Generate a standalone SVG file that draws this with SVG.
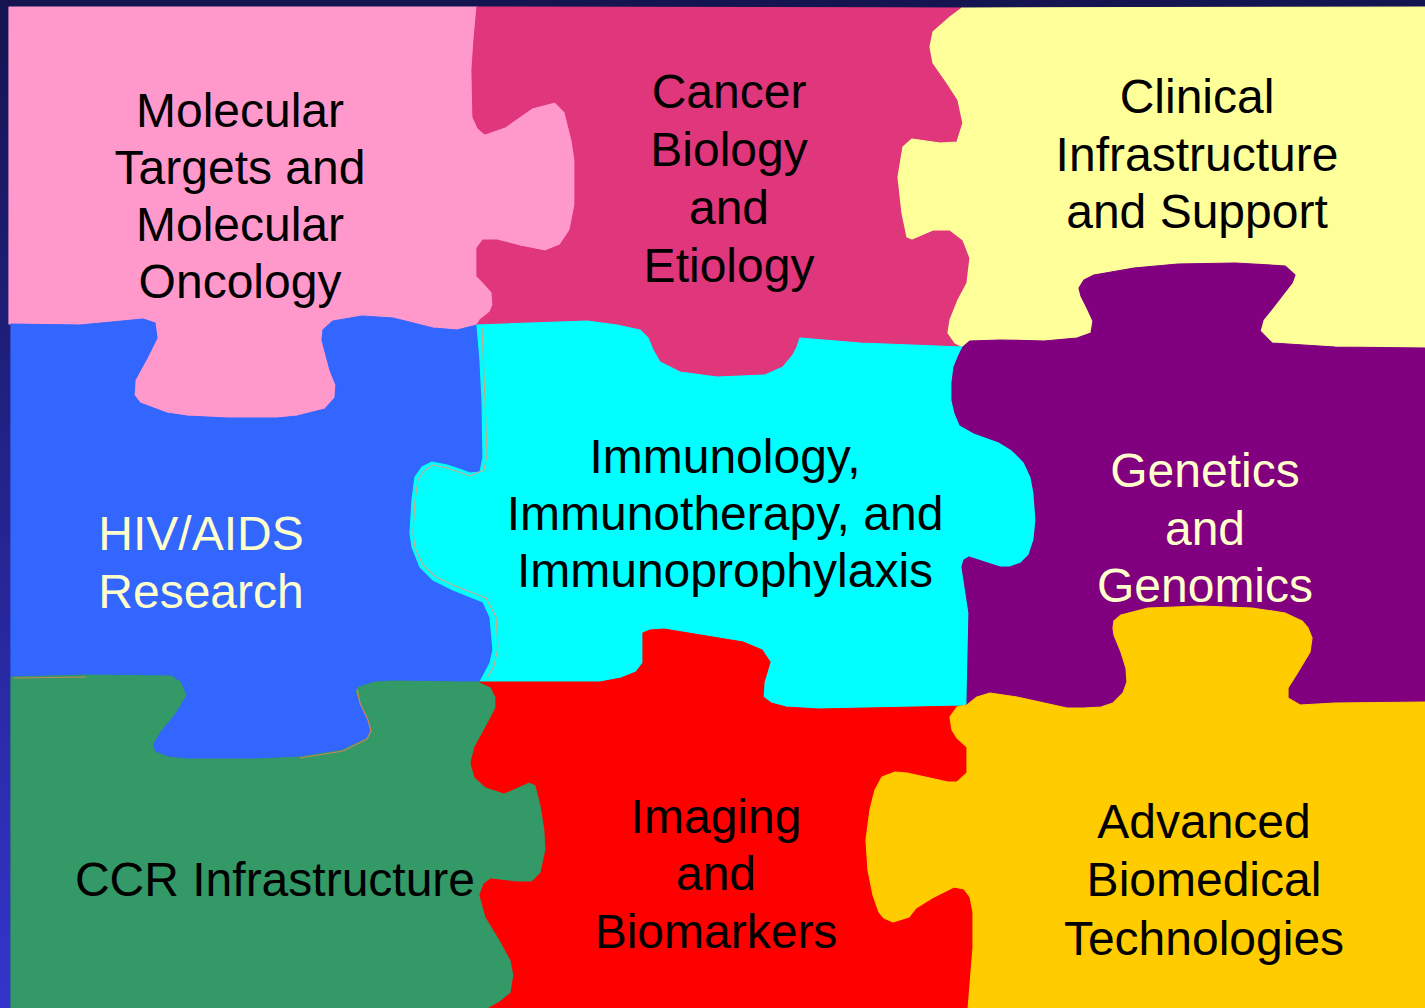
<svg xmlns="http://www.w3.org/2000/svg" width="1425" height="1008" viewBox="0 0 1425 1008">
<defs>
<linearGradient id="bg" x1="0" y1="0" x2="0" y2="1">
<stop offset="0" stop-color="#141450"/>
<stop offset="1" stop-color="#3434cc"/>
</linearGradient>
</defs>
<style>
.p{stroke-width:1.2;stroke-linejoin:round}
.t{font-family:"Liberation Sans",Arial,sans-serif;font-size:48px;text-anchor:middle;fill:#000}
.w{fill:#FFFFCC}
.seam{fill:none;stroke:#c8a88a;stroke-width:1.2;stroke-linejoin:round}
.seam2{fill:none;stroke:#c8865a;stroke-width:1.2;stroke-linejoin:round}
</style>
<rect x="0" y="0" width="1425" height="1008" fill="url(#bg)"/>

<g id="molecular-targets">
<path class="p" fill="#FF99CC" stroke="#FF99CC" d="M9,7 L477,7 474,40 472,70 473,117 478,128 485,134 505,127 532,108 555,102 565,112 572,140 575,160 575,205 570,230 560,245 545,251 520,246 497,240 483,240 477,248 477,276 483,282 492,292 493,305 490,312 480,320 477,325 457,330 433,328 393,318 362,316 333,321 323,330 322,340 330,370 336,385 335,398 325,409 297,416 277,418 227,418 187,416 167,413 140,403 134,395 135,380 147,358 157,338 155,323 143,319 80,325 9,324 Z"/>
<text class="t"><tspan x="240" y="127">Molecular</tspan><tspan x="240" y="184">Targets and</tspan><tspan x="240" y="241">Molecular</tspan><tspan x="240" y="298">Oncology</tspan></text>
</g>

<g id="cancer-biology">
<path class="p" fill="#E0367C" stroke="#E0367C" d="M477,7 L962,8 950,17 933,32 930,47 933,63 947,83 958,100 963,123 957,142 940,143 912,139 903,147 898,177 902,213 907,237 912,239 933,230 950,230 963,240 970,258 967,283 958,300 950,320 948,333 955,343 963,347 860,343 800,338 797,347 793,355 783,367 765,375 717,377 680,372 660,362 653,350 648,338 640,330 617,325 587,321 477,325 480,320 490,312 493,305 492,292 483,282 477,276 477,248 483,240 497,240 520,246 545,251 560,245 570,230 575,205 575,160 572,140 565,112 555,102 532,108 505,127 485,134 478,128 473,117 472,70 474,40 Z"/>
<text class="t"><tspan x="729" y="108">Cancer</tspan><tspan x="729" y="166">Biology</tspan><tspan x="729" y="224">and</tspan><tspan x="729" y="282">Etiology</tspan></text>
</g>

<g id="clinical-infrastructure">
<path class="p" fill="#FFFF99" stroke="#FFFF99" d="M962,8 L1426,7 1426,348 1335,347 1272,343 1260,331 1263,320 1275,305 1292,283 1295,275 1285,266 1235,263 1178,264 1134,268 1094,275 1084,280 1079,288 1081,296 1087,308 1093,321 1091,333 1077,338 1044,341 1000,340 970,341 963,347 955,343 948,333 950,320 958,300 967,283 970,258 963,240 950,230 933,230 912,239 907,237 902,213 898,177 903,147 912,139 940,143 957,142 963,123 958,100 947,83 933,63 930,47 933,32 950,17 Z"/>
<text class="t"><tspan x="1197" y="113">Clinical</tspan><tspan x="1197" y="171">Infrastructure</tspan><tspan x="1197" y="228">and Support</tspan></text>
</g>

<g id="hiv-aids">
<path class="p" fill="#3366FF" stroke="#3366FF" d="M11,324 L80,325 143,319 155,323 157,338 147,358 135,380 134,395 140,403 167,413 187,416 227,418 277,418 297,416 325,409 335,398 336,385 330,370 322,340 323,330 333,321 362,316 393,318 433,328 457,330 477,325 480,360 482,400 483,457 480,472 470,473 462,470 447,465 432,462 422,467 415,477 412,500 410,533 412,547 420,567 433,580 453,590 483,602 490,617 493,650 490,663 482,678 480,682 464,682 393,681 375,682 359,687 356,692 361,703 368,718 371,730 368,738 343,750 300,757 257,759 186,759 168,757 155,752 152,745 161,730 175,713 186,695 180,682 171,676 86,675 11,677 Z"/>
<text class="t w"><tspan x="201" y="550">HIV/AIDS</tspan><tspan x="201" y="608">Research</tspan></text>
</g>

<g id="immunology">
<path class="p" fill="#00FFFF" stroke="#00FFFF" d="M477,325 L587,321 617,325 640,330 648,338 653,350 660,362 680,372 717,377 765,375 783,367 793,355 797,347 800,338 860,343 963,347 959,355 954,367 952,383 952,400 955,413 960,425 974,433 999,442 1012,450 1024,462 1031,477 1034,493 1036,520 1034,540 1029,555 1021,563 1010,567 1000,567 969,557 964,560 962,567 969,613 967,705 964,706 818,709 786,707 771,703 763,697 764,682 770,662 762,650 743,642 664,629 650,630 643,633 643,663 636,672 621,678 600,682 480,682 482,678 490,663 493,650 490,617 483,602 453,590 433,580 420,567 412,547 410,533 412,500 415,477 422,467 432,462 447,465 462,470 470,473 480,472 483,457 482,400 480,360 Z"/>
<path class="seam" d="M482,328 L485,400 487,455 484,470 L470,476 447,468 433,465 424,471 418,480 415,500 413,533 415,548 423,565 436,577 455,586 486,598 496,617 498,647 494,666 487,678"/>
<text class="t"><tspan x="725" y="473">Immunology,</tspan><tspan x="725" y="530">Immunotherapy, and</tspan><tspan x="725" y="587">Immunoprophylaxis</tspan></text>
</g>

<g id="genetics-genomics">
<path class="p" fill="#800080" stroke="#800080" d="M963,347 L970,341 1000,340 1044,341 1077,338 1091,333 1093,321 1087,308 1081,296 1079,288 1084,280 1094,275 1134,268 1178,264 1235,263 1285,266 1295,275 1292,283 1275,305 1263,320 1260,331 1272,343 1335,347 1426,348 1426,702 1335,703 1300,705 1288,698 1288,688 1298,672 1310,652 1312,638 1308,628 1302,621 1285,613 1252,608 1201,606 1148,608 1121,615 1114,621 1113,628 1114,635 1121,652 1126,668 1127,682 1123,693 1113,703 1101,707 1084,708 1067,708 1017,697 990,693 977,697 967,705 969,613 962,567 964,560 969,557 1000,567 1010,567 1021,563 1029,555 1034,540 1036,520 1034,493 1031,477 1024,462 1012,450 999,442 974,433 960,425 955,413 952,400 952,383 954,367 959,355 Z"/>
<text class="t w"><tspan x="1205" y="487">Genetics</tspan><tspan x="1205" y="545">and</tspan><tspan x="1205" y="602">Genomics</tspan></text>
</g>

<g id="ccr-infrastructure">
<path class="p" fill="#339966" stroke="#339966" d="M11,677 L86,675 171,676 180,682 186,695 175,713 161,730 152,745 155,752 168,757 186,759 257,759 300,757 343,750 368,738 371,730 368,718 361,703 356,692 359,687 375,682 393,681 464,682 480,682 491,687 496,697 496,708 486,727 475,747 471,763 475,777 486,787 504,793 529,782 536,785 541,805 545,830 546,850 541,873 532,882 516,882 491,879 484,884 480,895 486,917 500,940 511,960 514,975 511,993 500,1002 486,1010 11,1010 Z"/>
<path class="seam2" d="M14,678 L86,677 M357,689 L360,703 368,720 371,731 367,739 343,751 300,758"/>
<text class="t"><tspan x="275" y="896">CCR Infrastructure</tspan></text>
</g>

<g id="imaging-biomarkers">
<path class="p" fill="#FF0000" stroke="#FF0000" d="M480,682 L600,682 621,678 636,672 643,663 643,633 650,630 664,629 743,642 762,650 770,662 764,682 763,697 771,703 786,707 818,709 964,706 967,705 957,707 950,717 952,730 957,738 967,747 967,773 957,782 948,782 907,773 895,772 882,777 875,790 870,810 866,840 868,870 873,895 879,912 884,918 893,922 909,917 916,908 932,898 954,887 964,889 970,897 973,912 973,948 968,1010 486,1010 500,1002 511,993 514,975 511,960 500,940 486,917 480,895 484,884 491,879 516,882 532,882 541,873 546,850 545,830 541,805 536,785 529,782 504,793 486,787 475,777 471,763 475,747 486,727 496,708 496,697 491,687 Z"/>
<text class="t"><tspan x="716" y="833">Imaging</tspan><tspan x="716" y="890">and</tspan><tspan x="716" y="948">Biomarkers</tspan></text>
</g>

<g id="advanced-biomedical">
<path class="p" fill="#FFCC00" stroke="#FFCC00" d="M967,705 L977,697 990,693 1017,697 1067,708 1084,708 1101,707 1113,703 1123,693 1127,682 1126,668 1121,652 1114,635 1113,628 1114,621 1121,615 1148,608 1201,606 1252,608 1285,613 1302,621 1308,628 1312,638 1310,652 1298,672 1288,688 1288,698 1300,705 1335,703 1426,702 1426,1010 968,1010 973,948 973,912 970,897 964,889 954,887 932,898 916,908 909,917 893,922 884,918 879,912 873,895 868,870 866,840 870,810 875,790 882,777 895,772 907,773 948,782 957,782 967,773 967,747 957,738 952,730 950,717 957,707 Z"/>
<text class="t"><tspan x="1204" y="838">Advanced</tspan><tspan x="1204" y="896">Biomedical</tspan><tspan x="1204" y="955">Technologies</tspan></text>
</g>
</svg>
